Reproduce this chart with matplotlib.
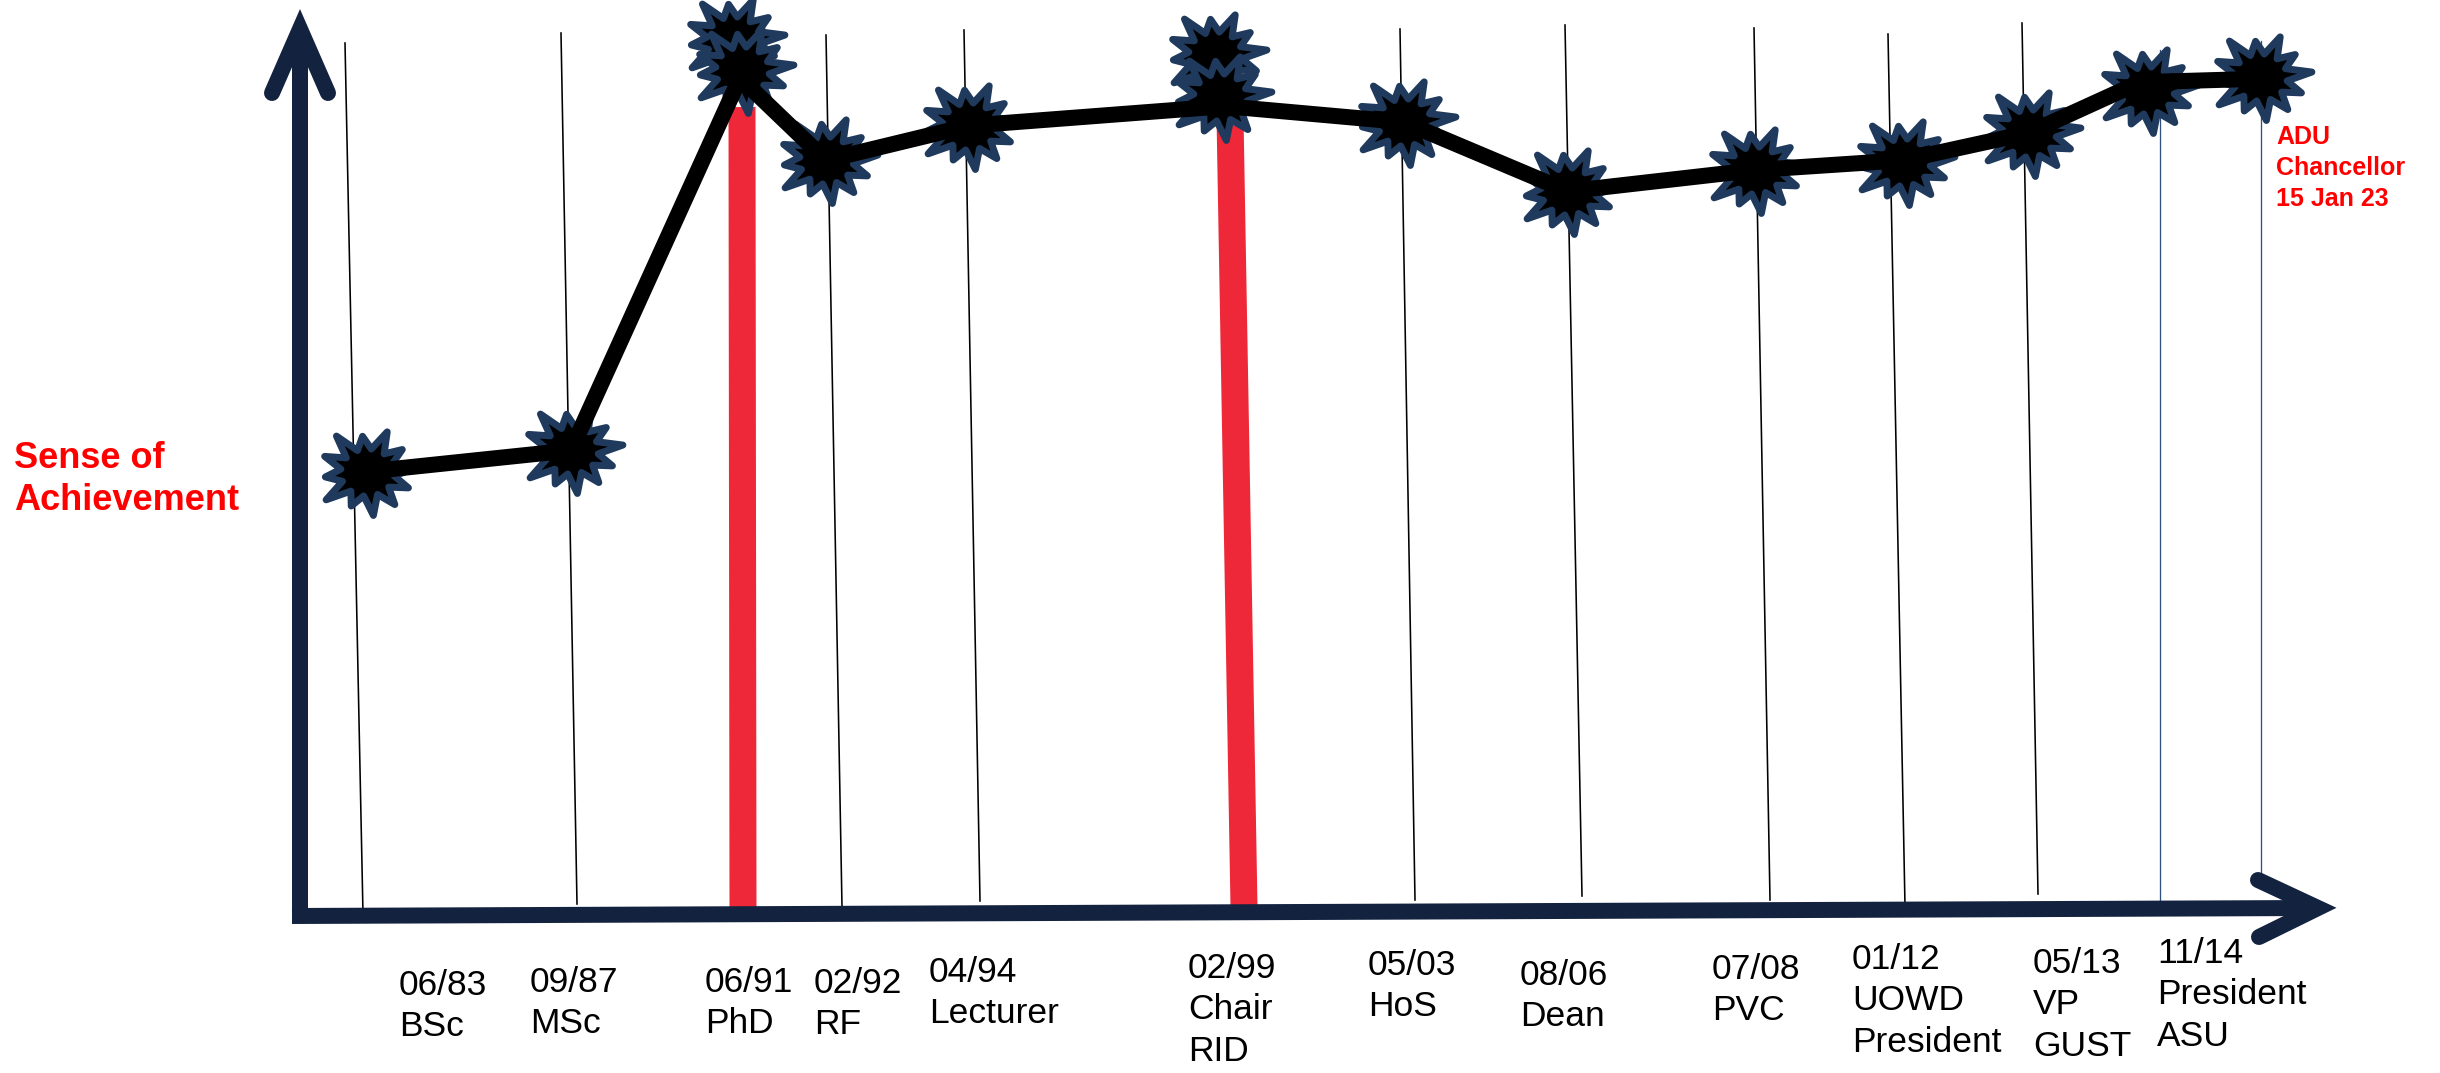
import numpy as np
import matplotlib
matplotlib.use("Agg")
import matplotlib.pyplot as plt
from matplotlib.path import Path
from matplotlib.markers import MarkerStyle

plt.rcParams['font.family'] = ['Liberation Sans', 'DejaVu Sans']

# ---------------- data ----------------
# timeline position of each event (horizontal units) and sense-of-achievement level (0-100)
events = ["BSc", "MSc", "PhD", "RF", "Lecturer", "Chair RID", "HoS", "Dean", "PVC",
          "UOWD President", "VP GUST", "President ASU", "ADU Chancellor"]
line_x = [367, 571, 740, 826, 969, 1225, 1404, 1568, 1755, 1903, 2029, 2140, 2262]
line_level = [50.1, 52.5, 94.5, 85.2, 89.1, 91.3, 89.5, 81.7, 84.1, 85.2, 88.3, 94.0, 94.4]

star_x = [367, 571, 733, 742, 826, 969, 1215, 1220, 1404, 1568, 1755, 1903, 2029, 2147, 2260]
star_level = [50.1, 52.5, 98.8, 95.4, 85.2, 89.1, 97.1, 92.3, 89.5, 81.7, 84.1, 85.0, 88.3, 93.1, 94.6]

# red milestone bars (PhD, Chair): bottom x, top x, top level
bar_x_bottom = [743, 1244]
bar_x_top = [742, 1230]
bar_top_level = [91.2, 90.1]

# date / role labels
label_dates = ["06/83", "09/87", "06/91", "02/92", "04/94", "02/99", "05/03", "08/06",
               "07/08", "01/12", "05/13", "11/14"]
label_roles = ["BSc", "MSc", "PhD", "RF", "Lecturer", "Chair\nRID", "HoS", "Dean",
               "PVC", "UOWD\nPresident", "VP\nGUST", "President\nASU"]

# ---------------- layout helpers ----------------
W, H = 2440, 1073
BASE, SCALE = 916.0, 8.87      # pixel row of level 0, pixels per level unit


def lv(ypx):
    return (BASE - ypx) / SCALE


fig = plt.figure(figsize=(W / 100, H / 100), dpi=100)
ax = fig.add_axes([0, 0, 1, 1])
ax.set_xlim(0, W)
ax.set_ylim(lv(H), lv(0))
ax.axis('off')

NAVY = '#13223f'
RED_BAR = '#ee2838'
STAR_EDGE = '#1f3a5c'
GUIDE_BLUE = '#2f4f80'
PX = 0.72  # points per pixel

# thin guide lines (slightly slanted)
guides = [((345, 43), (363, 914), 'black'), ((561, 33), (577, 904), 'black'),
          ((826, 35), (842, 907), 'black'), ((964, 30), (980, 901), 'black'),
          ((1400, 29), (1415, 900), 'black'), ((1565, 25), (1582, 896), 'black'),
          ((1754, 28), (1770, 900), 'black'), ((1888, 34), (1905, 906), 'black'),
          ((2022, 23), (2038, 894), 'black'), ((2160, 50), (2160, 909), GUIDE_BLUE),
          ((2261, 41), (2261, 873), GUIDE_BLUE)]
for (x0, y0), (x1, y1), c in guides:
    ax.plot([x0, x1], [lv(y0), lv(y1)], color=c, lw=(1.6 if c == 'black' else 1.3) * PX, zorder=1)

# red bars
for xb, xt, top in zip(bar_x_bottom, bar_x_top, bar_top_level):
    ax.plot([xb, xt], [lv(917) if xb < 1000 else lv(907), top], color=RED_BAR,
            lw=27 * PX, solid_capstyle='butt', zorder=2)

# axes arrows
ax.plot([300, 300], [lv(923), lv(34)], color=NAVY, lw=16 * PX, solid_capstyle='butt', zorder=3)
ax.plot([272, 300, 328], [lv(93), lv(29), lv(93)], color=NAVY, lw=16 * PX,
        solid_capstyle='round', solid_joinstyle='miter', zorder=3)
ax.plot([292, 2315], [lv(916), lv(908)], color=NAVY, lw=16 * PX, solid_capstyle='butt', zorder=3)
ax.plot([2258, 2318, 2259], [lv(880), lv(908), lv(937)], color=NAVY, lw=16 * PX,
        solid_capstyle='round', solid_joinstyle='miter', zorder=3)

# star (explosion) marker
outer_r = [1.0, 0.84, 0.97, 0.8, 1.0, 0.9, 0.82, 1.0, 0.8, 0.95, 0.88, 0.86]
n = len(outer_r)
verts = []
for i, r in enumerate(outer_r):
    a = 2 * np.pi * i / n + 0.12
    verts.append((r * np.cos(a), 0.88 * r * np.sin(a)))
    b = a + np.pi / n
    verts.append((0.52 * np.cos(b), 0.88 * 0.52 * np.sin(b)))
verts.append(verts[0])
codes = [Path.MOVETO] + [Path.LINETO] * (len(verts) - 2) + [Path.CLOSEPOLY]
star_path = Path(verts, codes)
star_marker = MarkerStyle(star_path, joinstyle='round')

ax.plot(star_x, star_level, linestyle='none', marker=star_marker, markersize=74,
        markerfacecolor='black', markeredgecolor=STAR_EDGE, markeredgewidth=5, zorder=4)

# main line
ax.plot(line_x, line_level, color='black', lw=16 * PX, solid_joinstyle='miter',
        solid_capstyle='butt', zorder=5)

# labels below the axis
label_pos = [(399, 972), (530, 969), (705, 969), (814, 970), (929, 959), (1188, 955),
             (1368, 952), (1520, 962), (1712, 956), (1852, 946), (2033, 950), (2157, 940)]
for (x, y), d, r in zip(label_pos, label_dates, label_roles):
    ax.text(x, lv(y - 3), d + "\n" + r, ha='left', va='top', fontsize=25.5,
            color='black', linespacing=1.32, zorder=6)

# y axis title
ax.text(14, lv(441), "Sense of\nAchievement", ha='left', va='top', fontsize=26,
        fontweight='bold', color='#ff0000', linespacing=1.25, zorder=6)

# final milestone annotation
ax.text(2276, lv(125), "ADU\nChancellor\n15 Jan 23", ha='left', va='top', fontsize=18,
        fontweight='bold', color='#ff0000', linespacing=1.38, zorder=6)

fig.savefig("out.png", dpi=100)
